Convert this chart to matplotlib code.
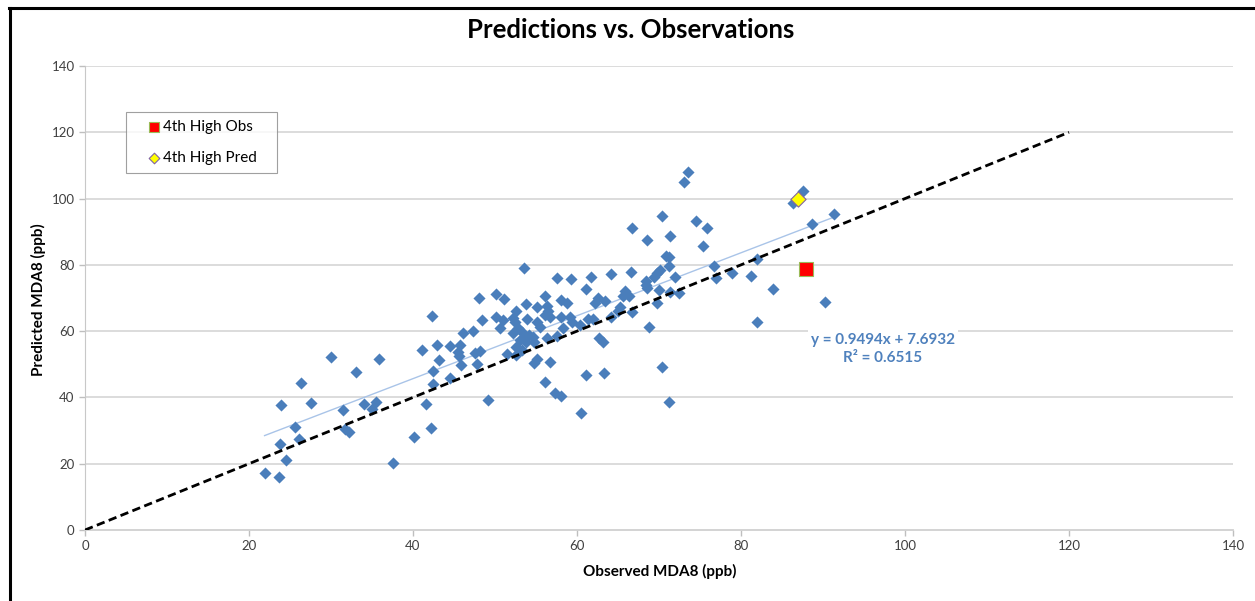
import matplotlib
matplotlib.use("Agg")
import matplotlib.pyplot as plt
from matplotlib.lines import Line2D
import numpy as np

# ---- data ----
obs = [21.9, 23.7, 23.8, 23.9, 24.5, 25.6, 26.1, 26.3, 27.6, 30.0,
       31.5, 31.7, 32.2, 33.0, 34.0, 35.0, 35.5, 35.8, 37.6, 40.1,
       41.1, 41.6, 42.2, 42.3, 42.4, 42.4, 42.9, 43.2, 44.5, 44.5,
       45.7, 45.5, 45.6, 45.8, 46.1, 47.3, 47.6, 48.2, 47.8, 48.1,
       48.4, 49.2, 50.1, 50.1, 50.6, 51.1, 51.0, 51.5, 52.2, 52.4,
       52.6, 52.8, 52.2, 53.3, 53.5, 54.1, 54.6, 53.8, 53.0, 54.7,
       52.6, 53.3, 52.6, 53.5, 53.8, 53.9, 55.1, 55.1, 55.5, 55.1,
       54.7, 56.1, 56.3, 56.5, 56.1, 56.7, 56.3, 57.5, 56.7, 56.1,
       57.3, 58.1, 57.6, 58.1, 58.8, 58.1, 59.1, 59.4, 58.3, 59.3,
       60.4, 60.5, 61.1, 61.1, 61.4, 61.9, 61.7, 62.2, 62.6, 63.4,
       62.7, 63.2, 63.3, 64.1, 64.1, 65.2, 65.0, 65.9, 65.6, 66.4,
       66.6, 66.7, 66.7, 68.4, 68.4, 68.5, 68.5, 68.8, 69.4, 69.8,
       70.1, 69.7, 70.0, 70.4, 70.4, 70.9, 71.2, 71.2, 71.3, 71.4,
       71.2, 72.0, 72.4, 73.0, 73.5, 74.5, 75.4, 75.9, 76.7, 77.0,
       78.9, 81.2, 82.0, 82.0, 83.9, 86.4, 87.6, 88.7, 90.3, 91.3]
pred = [17.3, 16.0, 25.9, 37.8, 21.1, 31.0, 27.4, 44.3, 38.4, 52.1,
        36.2, 30.6, 29.6, 47.8, 38.1, 36.6, 38.5, 51.7, 20.2, 28.2,
        54.2, 38.1, 30.9, 64.6, 48.1, 44.1, 55.7, 51.2, 55.4, 46.0,
        55.8, 53.8, 52.6, 49.8, 59.5, 60.1, 53.4, 53.9, 50.0, 69.9,
        63.4, 39.3, 71.2, 64.2, 61.0, 69.7, 63.5, 53.1, 63.9, 62.9,
        66.0, 60.8, 59.5, 59.8, 58.3, 58.8, 58.3, 56.8, 57.3, 56.6,
        55.3, 54.3, 52.8, 79.1, 68.2, 63.7, 67.3, 62.9, 61.3, 51.6,
        50.3, 70.7, 67.6, 66.1, 64.9, 64.4, 57.8, 58.6, 50.6, 44.8,
        41.4, 40.4, 75.9, 69.4, 68.6, 64.2, 64.4, 62.9, 61.0, 75.6,
        61.9, 35.2, 72.7, 46.8, 63.6, 63.6, 76.4, 68.6, 69.9, 69.1,
        57.8, 56.8, 47.3, 77.2, 64.2, 67.2, 66.2, 72.2, 70.6, 70.6,
        77.8, 65.9, 91.2, 75.2, 73.9, 72.9, 87.4, 61.2, 76.4, 77.6,
        78.5, 68.6, 72.4, 94.8, 49.3, 82.7, 82.3, 79.8, 71.9, 88.7,
        38.5, 76.2, 71.4, 105.0, 108.0, 93.2, 85.8, 91.0, 79.7, 76.1,
        77.5, 76.6, 81.7, 62.9, 72.8, 98.8, 102.3, 92.3, 68.8, 95.3]

high_obs = (87.9, 78.9)      # 4th High Obs
high_pred = (87.0, 99.9)     # 4th High Pred
one_to_one = [0, 120]
fit_slope = 0.9494
fit_intercept = 7.6932
r_squared = 0.6515

x_ticks = [0, 20, 40, 60, 80, 100, 120, 140]
y_ticks = [0, 20, 40, 60, 80, 100, 120, 140]

title = "Predictions vs. Observations"
xlabel = "Observed MDA8 (ppb)"
ylabel = "Predicted MDA8 (ppb)"

# ---- drawing ----
plt.rcParams['font.family'] = ['Lato', 'DejaVu Sans']
fig = plt.figure(figsize=(12.55, 6.01), dpi=100)
ax = fig.add_axes([85/1255, 1-530/601, 1148/1255, 464/601])

blue = '#4a7ebb'
ax.set_xlim(0, 140)
ax.set_ylim(0, 140)
ax.set_xticks(x_ticks)
ax.set_yticks(y_ticks)
ax.tick_params(axis='both', labelsize=9.5, colors='#bfbfbf', labelcolor='#404040',
               length=4, width=1, direction='out')
for t in y_ticks[1:]:
    ax.axhline(t, color='#d9d9d9', lw=1.3, zorder=0)
for s in ['top', 'right']:
    ax.spines[s].set_visible(False)
ax.spines['left'].set_color('#c8c8c8')
ax.spines['bottom'].set_color('#d0d0d0')
ax.spines['bottom'].set_linewidth(1.3)

ax.scatter(obs, pred, marker='D', s=38, color=blue, linewidths=0, zorder=3)

xs = np.array([min(obs), max(obs)])
ax.plot(xs, fit_slope * xs + fit_intercept, color='#a9c4e8', lw=1.0, zorder=2)
ax.plot(one_to_one, one_to_one, color='black', lw=2.0, ls=(0, (3, 1.6)), zorder=4)

ax.scatter([high_obs[0]], [high_obs[1]], marker='s', s=95, color='#ff0000',
           edgecolors='#9bbb59', linewidths=0.8, zorder=5, label='4th High Obs')
ax.scatter([high_pred[0]], [high_pred[1]], marker='D', s=60, color='#ffff00',
           edgecolors='#8064a2', linewidths=0.8, zorder=5, label='4th High Pred')

ax.text(97.3, 54.6, f"y = {fit_slope}x + {fit_intercept}\nR\u00b2 = {r_squared}",
        ha='center', va='center', color='#4f81bd', fontsize=11, fontweight='bold',
        linespacing=1.38, zorder=6,
        bbox=dict(facecolor='white', edgecolor='none', pad=2))

leg = ax.legend(loc='upper left',
                bbox_to_anchor=(41/1148, (530-112)/464 - 0.01, 151/1148, 0.01),
                mode='expand', borderaxespad=0, frameon=True, fancybox=False,
                fontsize=11, handletextpad=-0.75, handlelength=2.6,
                labelspacing=1.08, borderpad=0.55, markerscale=0.7)
leg.get_frame().set_edgecolor('#888888')
leg.get_frame().set_linewidth(0.8)

fig.text(631/1255, 1-30/601, title, ha='center', va='center', fontsize=18.5,
         fontweight='bold')
fig.text(660/1255, 1-571/601, xlabel, ha='center', va='center', fontsize=11,
         fontweight='bold')
fig.text(38/1255, 1-300/601, ylabel, ha='center', va='center', fontsize=11,
         fontweight='bold', rotation=90)

# frame border (left and top only are visible in the reference)
fig.add_artist(Line2D([10/1255, 10/1255], [0, 1-8/601], transform=fig.transFigure,
                      color='black', lw=2.2))
fig.add_artist(Line2D([9/1255, 1], [1-8/601, 1-8/601], transform=fig.transFigure,
                      color='black', lw=2.2))

fig.savefig('out.png', dpi=100)
